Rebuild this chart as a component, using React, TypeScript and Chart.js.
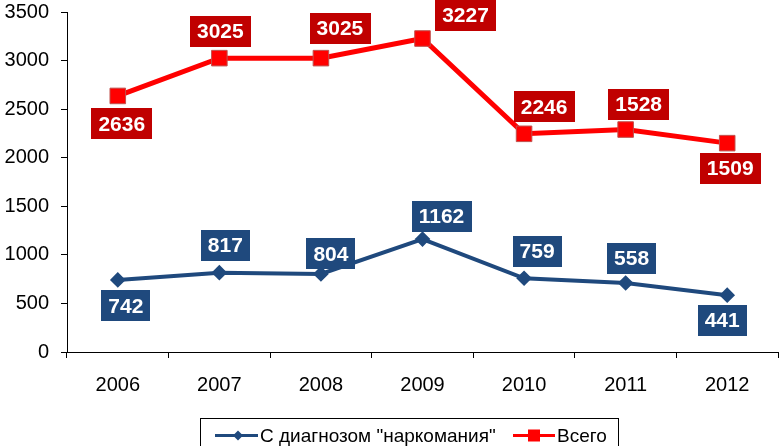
import React, { useEffect, useRef } from "react";
import { Chart, registerables } from "chart.js";

Chart.register(...registerables);

const years = ["2006", "2007", "2008", "2009", "2010", "2011", "2012"];
const narcoValues = [742, 817, 804, 1162, 759, 710, 585];
const narcoLabels = ["742", "817", "804", "1162", "759", "558", "441"];
const totalValues = [2636, 3025, 3025, 3227, 2246, 2290, 2150];
const totalLabels = ["2636", "3025", "3025", "3227", "2246", "1528", "1509"];
const seriesNames = ['С диагнозом "наркомания"', "Всего"];

// label box offsets relative to each point (placement only)
const narcoOffsets = [[8, 26], [6, -27], [10, -20], [19, -23], [13, -27], [6, -25], [-5, 25]];
const totalOffsets = [[4, 28], [1, -27], [19, -30], [43, -23], [20, -27], [13, -25], [3, 25]];

const BLUE = "#1f497d";
const RED = "#ff0000";
const RED_BOX = "#c00000";
const FONT = "'Liberation Sans', Arial, sans-serif";

const labelPlugin = {
  id: "valueBoxes",
  afterDraw(chart: any) {
    const ctx = chart.ctx;
    const sets = [
      { idx: 0, labels: narcoLabels, offs: narcoOffsets, color: BLUE },
      { idx: 1, labels: totalLabels, offs: totalOffsets, color: RED_BOX },
    ];
    ctx.save();
    ctx.font = `bold 21px ${FONT}`;
    ctx.textAlign = "center";
    ctx.textBaseline = "middle";
    sets.forEach((s) => {
      const meta = chart.getDatasetMeta(s.idx);
      meta.data.forEach((pt: any, i: number) => {
        const cx = pt.x + s.offs[i][0];
        const cy = pt.y + s.offs[i][1];
        const w = ctx.measureText(s.labels[i]).width + 14;
        const h = 31;
        ctx.fillStyle = s.color;
        ctx.fillRect(Math.round(cx - w / 2), Math.round(cy - h / 2), Math.round(w), h);
        ctx.fillStyle = "#ffffff";
        ctx.fillText(s.labels[i], cx, cy + 1);
      });
    });

    // legend
    ctx.strokeStyle = "#000";
    ctx.lineWidth = 1;
    ctx.strokeRect(200.5, 418.5, 418, 40);
    ctx.font = `19px ${FONT}`;
    ctx.textAlign = "left";
    ctx.textBaseline = "middle";
    const ly = 435.5;
    ctx.strokeStyle = BLUE;
    ctx.lineWidth = 3;
    ctx.beginPath();
    ctx.moveTo(215, ly);
    ctx.lineTo(258, ly);
    ctx.stroke();
    ctx.fillStyle = BLUE;
    ctx.beginPath();
    ctx.moveTo(238, ly - 5);
    ctx.lineTo(243, ly);
    ctx.lineTo(238, ly + 5);
    ctx.lineTo(233, ly);
    ctx.closePath();
    ctx.fill();
    ctx.fillStyle = "#000";
    ctx.fillText(seriesNames[0], 260, ly + 1);
    ctx.strokeStyle = RED;
    ctx.lineWidth = 3;
    ctx.beginPath();
    ctx.moveTo(513, ly);
    ctx.lineTo(555, ly);
    ctx.stroke();
    ctx.fillStyle = RED;
    ctx.fillRect(528, ly - 6, 12, 12);
    ctx.fillStyle = "#000";
    ctx.fillText(seriesNames[1], 557, ly + 1);
    ctx.restore();
  },
};

export default function App() {
  const ref = useRef<HTMLCanvasElement>(null);
  useEffect(() => {
    if (!ref.current) return;
    const chart = new Chart(ref.current, {
      type: "line",
      data: {
        labels: years,
        datasets: [
          {
            label: seriesNames[0],
            data: narcoValues,
            borderColor: BLUE,
            backgroundColor: BLUE,
            borderWidth: 4,
            pointStyle: "rectRot",
            pointRadius: 5,
            pointBorderColor: BLUE,
            pointBackgroundColor: BLUE,
            tension: 0,
          },
          {
            label: seriesNames[1],
            data: totalValues,
            borderColor: RED,
            backgroundColor: RED,
            borderWidth: 5,
            pointStyle: "rect",
            pointRadius: 11,
            pointBorderColor: "#c0504d",
            pointBorderWidth: 1,
            pointBackgroundColor: RED,
            tension: 0,
          },
        ],
      },
      options: {
        animation: false,
        responsive: false,
        devicePixelRatio: 1,
        layout: { autoPadding: false, padding: { top: 12, right: 3, bottom: 0, left: 0 } },
        plugins: { legend: { display: false }, tooltip: { enabled: false } },
        scales: {
          x: {
            offset: true,
            grid: {
              offset: true,
              drawOnChartArea: false,
              drawTicks: true,
              tickLength: 6,
              color: "#000",
            },
            border: { color: "#000", width: 1 },
            ticks: { color: "#000", font: { family: FONT, size: 20 }, padding: 15 },
            afterFit: (s: any) => {
              s.height = 94;
              s.paddingLeft = 0;
              s.paddingRight = 0;
            },
          },
          y: {
            min: 0,
            max: 3500,
            grid: {
              drawOnChartArea: false,
              drawTicks: true,
              tickLength: 6,
              color: "#000",
            },
            border: { color: "#000", width: 1 },
            ticks: {
              stepSize: 500,
              color: "#000",
              font: { family: FONT, size: 20 },
              padding: 12,
              callback: (v: any) => String(v),
            },
            afterFit: (s: any) => {
              s.width = 67;
              s.paddingTop = 0;
              s.paddingBottom = 0;
            },
          },
        },
      },
      plugins: [labelPlugin],
    });
    return () => chart.destroy();
  }, []);
  return (
    <div style={{ position: "fixed", left: 0, top: 0, width: 781, height: 446, background: "#fff" }}>
      <canvas ref={ref} width={781} height={446} style={{ width: 781, height: 446 }} />
    </div>
  );
}
